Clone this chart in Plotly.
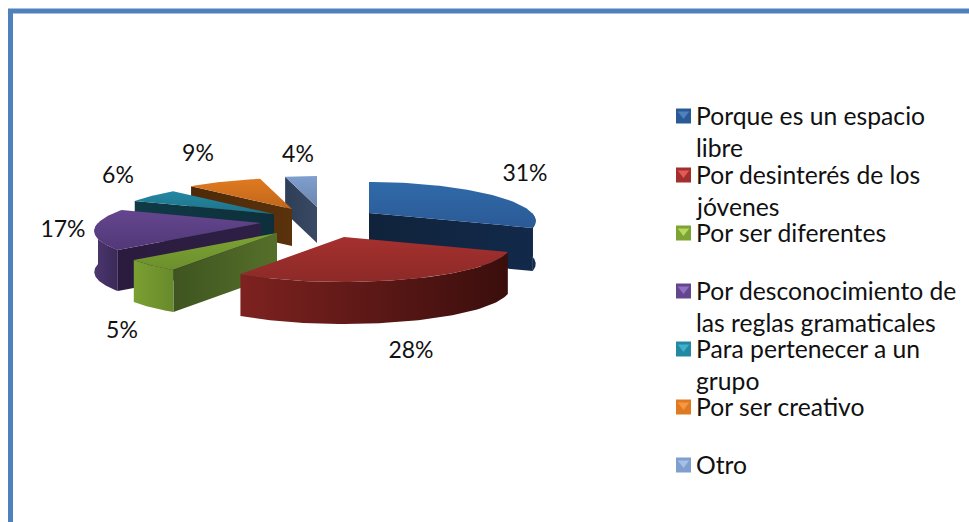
import numpy as np
import plotly.graph_objects as go

categories = ["Porque es un espacio<br>libre", "Por desinterés de los<br>jóvenes", "Por ser diferentes",
              "Por desconocimiento de<br>las reglas gramaticales", "Para pertenecer a un<br>grupo",
              "Por ser creativo", "Otro"]
values = [31, 28, 5, 17, 6, 9, 4]

# drawing layout (pixels of the 969x522 page)
apex_x = [369, 344, 277, 261, 274, 292, 317]
apex_y = [213, 237, 233, 223, 214, 209, 207]
depths = [43, 42, 42, 41, 38, 37, 36]
RX, KX, RY, KY = 163, 0.22, 38, 0.184
label_x = [525, 411, 122, 63, 118, 198, 298]
label_y = [175, 352, 332, 231, 177, 155, 156]
legend_x, legend_text_x = 683.5, 694
legend_y = [116, 175, 233, 291, 349, 407, 465]
top_colors = [("#2a5a96", "#316aa9"), ("#8c2a28", "#a5302e"), ("#6c8f2c", "#7da335"), ("#523877", "#64468f"),
              ("#1e7188", "#2488a3"), ("#c0661c", "#e07a20"), ("#6d86ac", "#7f9fcf")]
rim_colors = [("#102540", "#143050"), ("#7d2220", "#3a0e0c"), ("#7b9f31", "#688a2c"), ("#4d376f", "#3a2958"),
              ("#123a46", "#123a46"), ("#5a320c", "#5a320c"), ("#33435c", "#33435c")]
wall_colors = [("#10233b", "#12294a"), ("#5a1a18", "#3a0e0c"), ("#3f5420", "#55702a"), ("#2a1b3e", "#2e1f45"),
               ("#0f3a46", "#0d2f3b"), ("#4e2a08", "#5a320c"), ("#2f3e57", "#3a4a64")]
legend_colors = ["#2a5a96", "#a02f2d", "#7da335", "#64468f", "#2488a3", "#e07a20", "#7f9fcf"]
legend_light = ["#4f81bd", "#e45a58", "#b4d860", "#9070c0", "#40b0cc", "#f79646", "#a6bfe6"]
border = "#4f81bd"


def pt(i, deg):
    t = np.radians(deg)
    f = -np.cos(t)
    return (apex_x[i] + RX * np.sin(t) * (1 + KX * f), apex_y[i] + RY * f * (1 + KY * f))


def poly(fig, xs, ys, cols, kind):
    fig.add_trace(go.Scatter(
        x=list(xs) + [xs[0]], y=list(ys) + [ys[0]], mode="lines", fill="toself",
        line=dict(width=0), hoverinfo="skip", showlegend=False,
        fillgradient=dict(type=kind, colorscale=[[0, cols[0]], [1, cols[1]]])))


fig = go.Figure()
cum = np.concatenate([[0], np.cumsum(values)]) / sum(values) * 360
order = [6, 0, 5, 4, 3, 2, 1]
for i in order:
    a, b = cum[i], cum[i + 1]
    d = depths[i]
    thetas = np.linspace(a, b, 60)
    # side walls that face the viewer
    for edge, normal in ((a, a - 90), (b, b + 90)):
        if np.cos(np.radians(normal)) < -1e-6:
            x1, y1 = pt(i, edge)
            poly(fig, [apex_x[i], x1, x1, apex_x[i]], [apex_y[i], y1, y1 + d, apex_y[i] + d],
                 wall_colors[i], "horizontal")
    # outer rim, front half
    lo, hi = max(a, 90), min(b, 270)
    if hi > lo:
        th = np.linspace(lo, hi, 60)
        p = np.array([pt(i, v) for v in th])
        poly(fig, list(p[:, 0]) + list(p[::-1, 0]), list(p[:, 1]) + list(p[::-1, 1] + d),
             rim_colors[i], "horizontal")
    # top face
    p = np.array([pt(i, v) for v in thetas])
    poly(fig, [apex_x[i]] + list(p[:, 0]), [apex_y[i]] + list(p[:, 1]), top_colors[i], "vertical")

fig.add_trace(go.Scatter(x=label_x, y=label_y, mode="text", text=[f"{v}%" for v in values],
                         textfont=dict(family="Lato", size=23, color="#111111"),
                         textposition="middle center", hoverinfo="skip", showlegend=False))
fig.add_trace(go.Scatter(x=[legend_x] * 7, y=legend_y, mode="markers", hoverinfo="skip", showlegend=False,
                         marker=dict(symbol="square", size=15, color=legend_colors, line=dict(width=0))))
fig.add_trace(go.Scatter(x=[legend_x] * 7, y=[v - 2 for v in legend_y], mode="markers", hoverinfo="skip",
                         showlegend=False,
                         marker=dict(symbol="triangle-down", size=10, color=legend_light, line=dict(width=0))))

annotations = []
for name, y in zip(categories, legend_y):
    for k, line in enumerate(name.split("<br>")):
        annotations.append(dict(x=legend_text_x, y=y - 1 + k * 32, text=line, showarrow=False, xanchor="left",
                                yanchor="middle", font=dict(family="Lato", size=24.7, color="#111111")))

fig.update_layout(
    width=969, height=522, autosize=False, margin=dict(l=0, r=0, t=0, b=0),
    paper_bgcolor="white", plot_bgcolor="white", showlegend=False,
    xaxis=dict(range=[0, 969], visible=False, fixedrange=True),
    yaxis=dict(range=[522, 0], visible=False, fixedrange=True),
    annotations=annotations,
    shapes=[dict(type="rect", xref="x", yref="y", x0=10.5, y0=11, x1=1000, y1=560,
                 line=dict(color=border, width=5), layer="below")],
)
fig.write_html("out.html", config={"displayModeBar": False},
               post_script="document.body.style.margin='0';document.body.style.overflow='hidden';")
